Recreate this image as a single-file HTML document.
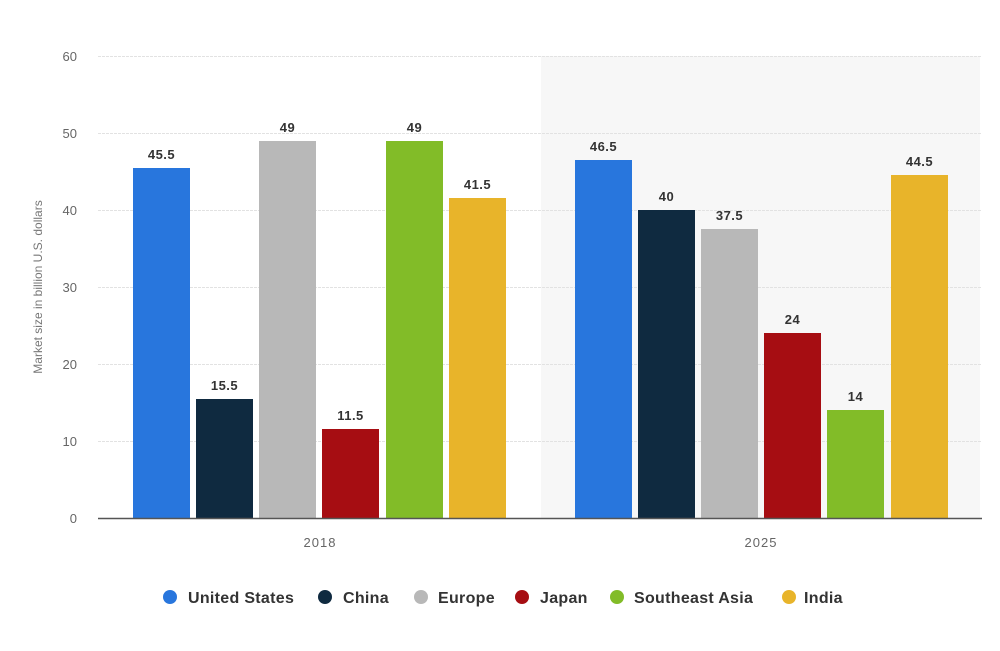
<!DOCTYPE html>
<html><head><meta charset="utf-8"><style>body{margin:0;background:#fff}svg{display:block}</style></head><body>
<svg width="1000" height="651" xmlns="http://www.w3.org/2000/svg" font-family="Liberation Sans, sans-serif">
<rect x="541" y="56" width="439" height="462" fill="#f7f7f7"/>
<g stroke="#e2e2e2" stroke-width="1" stroke-dasharray="3,1">
<line x1="98" x2="982" y1="56.5" y2="56.5"/>
<line x1="98" x2="982" y1="133.5" y2="133.5"/>
<line x1="98" x2="982" y1="210.5" y2="210.5"/>
<line x1="98" x2="982" y1="287.5" y2="287.5"/>
<line x1="98" x2="982" y1="364.5" y2="364.5"/>
<line x1="98" x2="982" y1="441.5" y2="441.5"/>
</g>
<g fill="#666" font-size="13" text-anchor="end">
<text x="77" y="61">60</text><text x="77" y="138">50</text><text x="77" y="215">40</text>
<text x="77" y="292">30</text><text x="77" y="369">20</text><text x="77" y="446">10</text><text x="77" y="523">0</text>
</g>
<text transform="translate(42,287) rotate(-90)" fill="#777" font-size="12" text-anchor="middle">Market size in billion U.S. dollars</text>
<g>
<rect x="133" y="168" width="57" height="350" fill="#2876dd"/>
<rect x="196" y="399" width="57" height="119" fill="#0f2a40"/>
<rect x="259" y="141" width="57" height="377" fill="#b8b8b8"/>
<rect x="322" y="429" width="57" height="89" fill="#a60d12"/>
<rect x="386" y="141" width="57" height="377" fill="#82bc28"/>
<rect x="449" y="198" width="57" height="320" fill="#e8b42a"/>
<rect x="575" y="160" width="57" height="358" fill="#2876dd"/>
<rect x="638" y="210" width="57" height="308" fill="#0f2a40"/>
<rect x="701" y="229" width="57" height="289" fill="#b8b8b8"/>
<rect x="764" y="333" width="57" height="185" fill="#a60d12"/>
<rect x="827" y="410" width="57" height="108" fill="#82bc28"/>
<rect x="891" y="175" width="57" height="343" fill="#e8b42a"/>
</g>
<g fill="#333" font-size="13" font-weight="bold" text-anchor="middle" letter-spacing="0.5">
<text x="161.5" y="159">45.5</text><text x="224.5" y="390">15.5</text><text x="287.5" y="132">49</text>
<text x="350.5" y="420">11.5</text><text x="414.5" y="132">49</text><text x="477.5" y="189">41.5</text>
<text x="603.5" y="151">46.5</text><text x="666.5" y="201">40</text><text x="729.5" y="220">37.5</text>
<text x="792.5" y="324">24</text><text x="855.5" y="401">14</text><text x="919.5" y="166">44.5</text>
</g>
<line x1="98" x2="982" y1="518.5" y2="518.5" stroke="#555" stroke-width="1.5"/>
<g fill="#666" font-size="13" text-anchor="middle" letter-spacing="1">
<text x="320" y="547">2018</text><text x="761" y="547">2025</text>
</g>
<g font-size="16" font-weight="bold" fill="#333" letter-spacing="0.3">
<circle cx="170" cy="597" r="7" fill="#2876dd"/><text x="188" y="603">United States</text>
<circle cx="325" cy="597" r="7" fill="#0f2a40"/><text x="343" y="603">China</text>
<circle cx="421" cy="597" r="7" fill="#b8b8b8"/><text x="438" y="603">Europe</text>
<circle cx="522" cy="597" r="7" fill="#a60d12"/><text x="540" y="603">Japan</text>
<circle cx="617" cy="597" r="7" fill="#82bc28"/><text x="634" y="603">Southeast Asia</text>
<circle cx="789" cy="597" r="7" fill="#e8b42a"/><text x="804" y="603">India</text>
</g>
</svg>
</body></html>
